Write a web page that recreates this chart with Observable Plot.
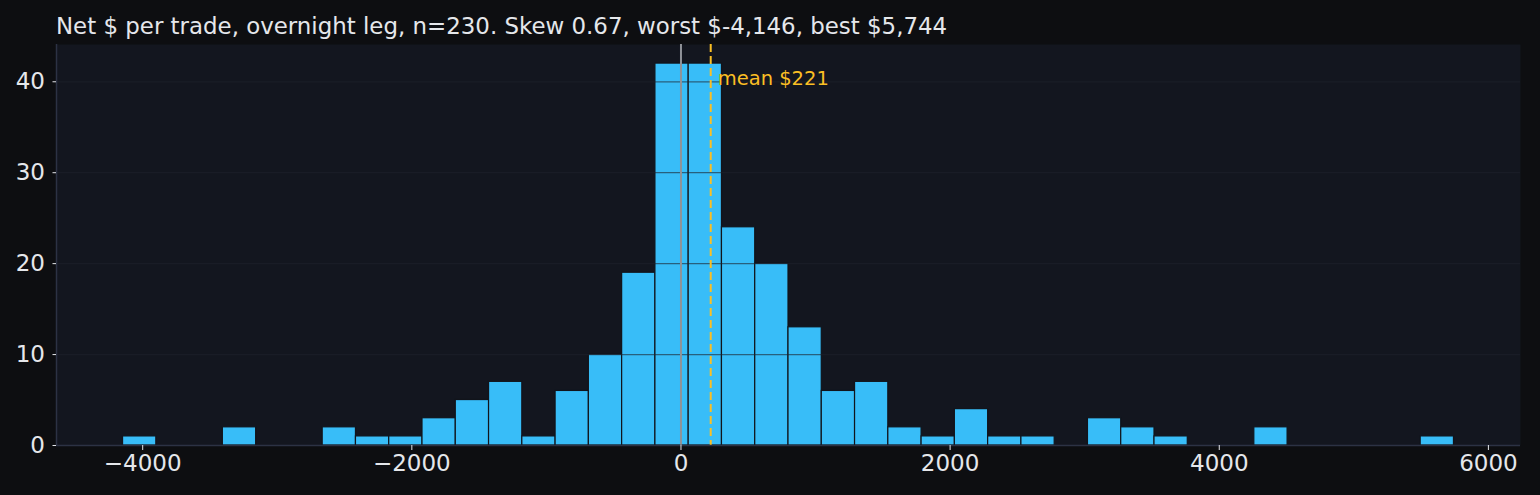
<!DOCTYPE html>
<html>
<head>
<meta charset="utf-8">
<script src="https://cdn.jsdelivr.net/npm/d3@7"></script>
<script src="https://cdn.jsdelivr.net/npm/@observablehq/plot@0.6"></script>
<style>
  html, body { margin: 0; padding: 0; background: #0d0e11; }
  #wrap { position: relative; width: 1540px; height: 495px; overflow: hidden; }
  #title { position: absolute; left: 56px; top: 15px; font-family: "DejaVu Sans", sans-serif; font-size: 22.9px; line-height: 1; color: #e5e7eb; white-space: nowrap; }
  #chart { position: absolute; left: 0; top: 44px; }
</style>
</head>
<body>
<div id="wrap">
  <div id="title"></div>
  <div id="chart"></div>
</div>
<script>
const titleText = "Net $ per trade, overnight leg, n=230. Skew 0.67, worst $-4,146, best $5,744";
const binEdges = [-4146, -3898.75, -3651.5, -3404.25, -3157, -2909.75, -2662.5, -2415.25, -2168, -1920.75,
  -1673.5, -1426.25, -1179, -931.75, -684.5, -437.25, -190, 57.25, 304.5, 551.75,
  799, 1046.25, 1293.5, 1540.75, 1788, 2035.25, 2282.5, 2529.75, 2777, 3024.25,
  3271.5, 3518.75, 3766, 4013.25, 4260.5, 4507.75, 4755, 5002.25, 5249.5, 5496.75, 5744];
const binCounts = [1, 0, 0, 2, 0, 0, 2, 1, 1, 3,
  5, 7, 1, 6, 10, 19, 42, 42, 24, 20,
  13, 6, 7, 2, 1, 4, 1, 1, 0, 3,
  2, 1, 0, 0, 2, 0, 0, 0, 0, 1];
const meanValue = 221;
const meanLabel = "mean $221";
const xTicks = [-4000, -2000, 0, 2000, 4000, 6000];
const yTicks = [0, 10, 20, 30, 40];
const gridTicks = [10, 20, 30, 40];
const xDomain = [-4640.5, 6238.5];
const yDomain = [0, 44.1];

document.getElementById("title").textContent = titleText;

const bins = binCounts.map((c, i) => ({x1: binEdges[i], x2: binEdges[i + 1], count: c})).filter(d => d.count > 0);

const spine = "#2c3244";

const chart = Plot.plot({
  width: 1540,
  height: 451,
  marginTop: 0,
  marginLeft: 56,
  marginRight: 20,
  marginBottom: 50,
  style: {background: "transparent", color: "#e5e7eb", fontFamily: "DejaVu Sans, sans-serif", fontSize: "22.5px"},
  x: {domain: xDomain},
  y: {domain: yDomain},
  marks: [
    Plot.frame({fill: "#13161f", stroke: null}),
    Plot.rectY(bins, {x1: "x1", x2: "x2", y: "count", fill: "#38bdf8", stroke: "#11141b", strokeWidth: 1.2}),
    Plot.ruleY(gridTicks, {stroke: "#1e222c", strokeOpacity: 0.6, strokeWidth: 1.2}),
    Plot.ruleX([0], {stroke: "#8f9298", strokeWidth: 2}),
    Plot.ruleX([meanValue], {stroke: "#fbbf24", strokeWidth: 2, strokeDasharray: "8,4"}),
    Plot.text([{x: meanValue, label: meanLabel}], {x: "x", text: "label", frameAnchor: "top", lineAnchor: "middle", textAnchor: "start", dx: 7, dy: 34, fill: "#fbbf24", fontSize: 19.5}),
    Plot.ruleY([yDomain[0]], {stroke: spine, strokeWidth: 1.5}),
    Plot.ruleX([xDomain[0]], {stroke: spine, strokeWidth: 1.5}),
    Plot.axisX({ticks: xTicks, tickFormat: d3.format("d"), tickSize: 5, tickPadding: 4, label: null, color: "#e5e7eb", fontSize: 23}),
    Plot.axisY({ticks: yTicks, tickFormat: d3.format("d"), tickSize: 3.5, tickPadding: 8, label: null, color: "#e5e7eb", fontSize: 23})
  ]
});
document.getElementById("chart").appendChild(chart);
</script>
</body>
</html>
